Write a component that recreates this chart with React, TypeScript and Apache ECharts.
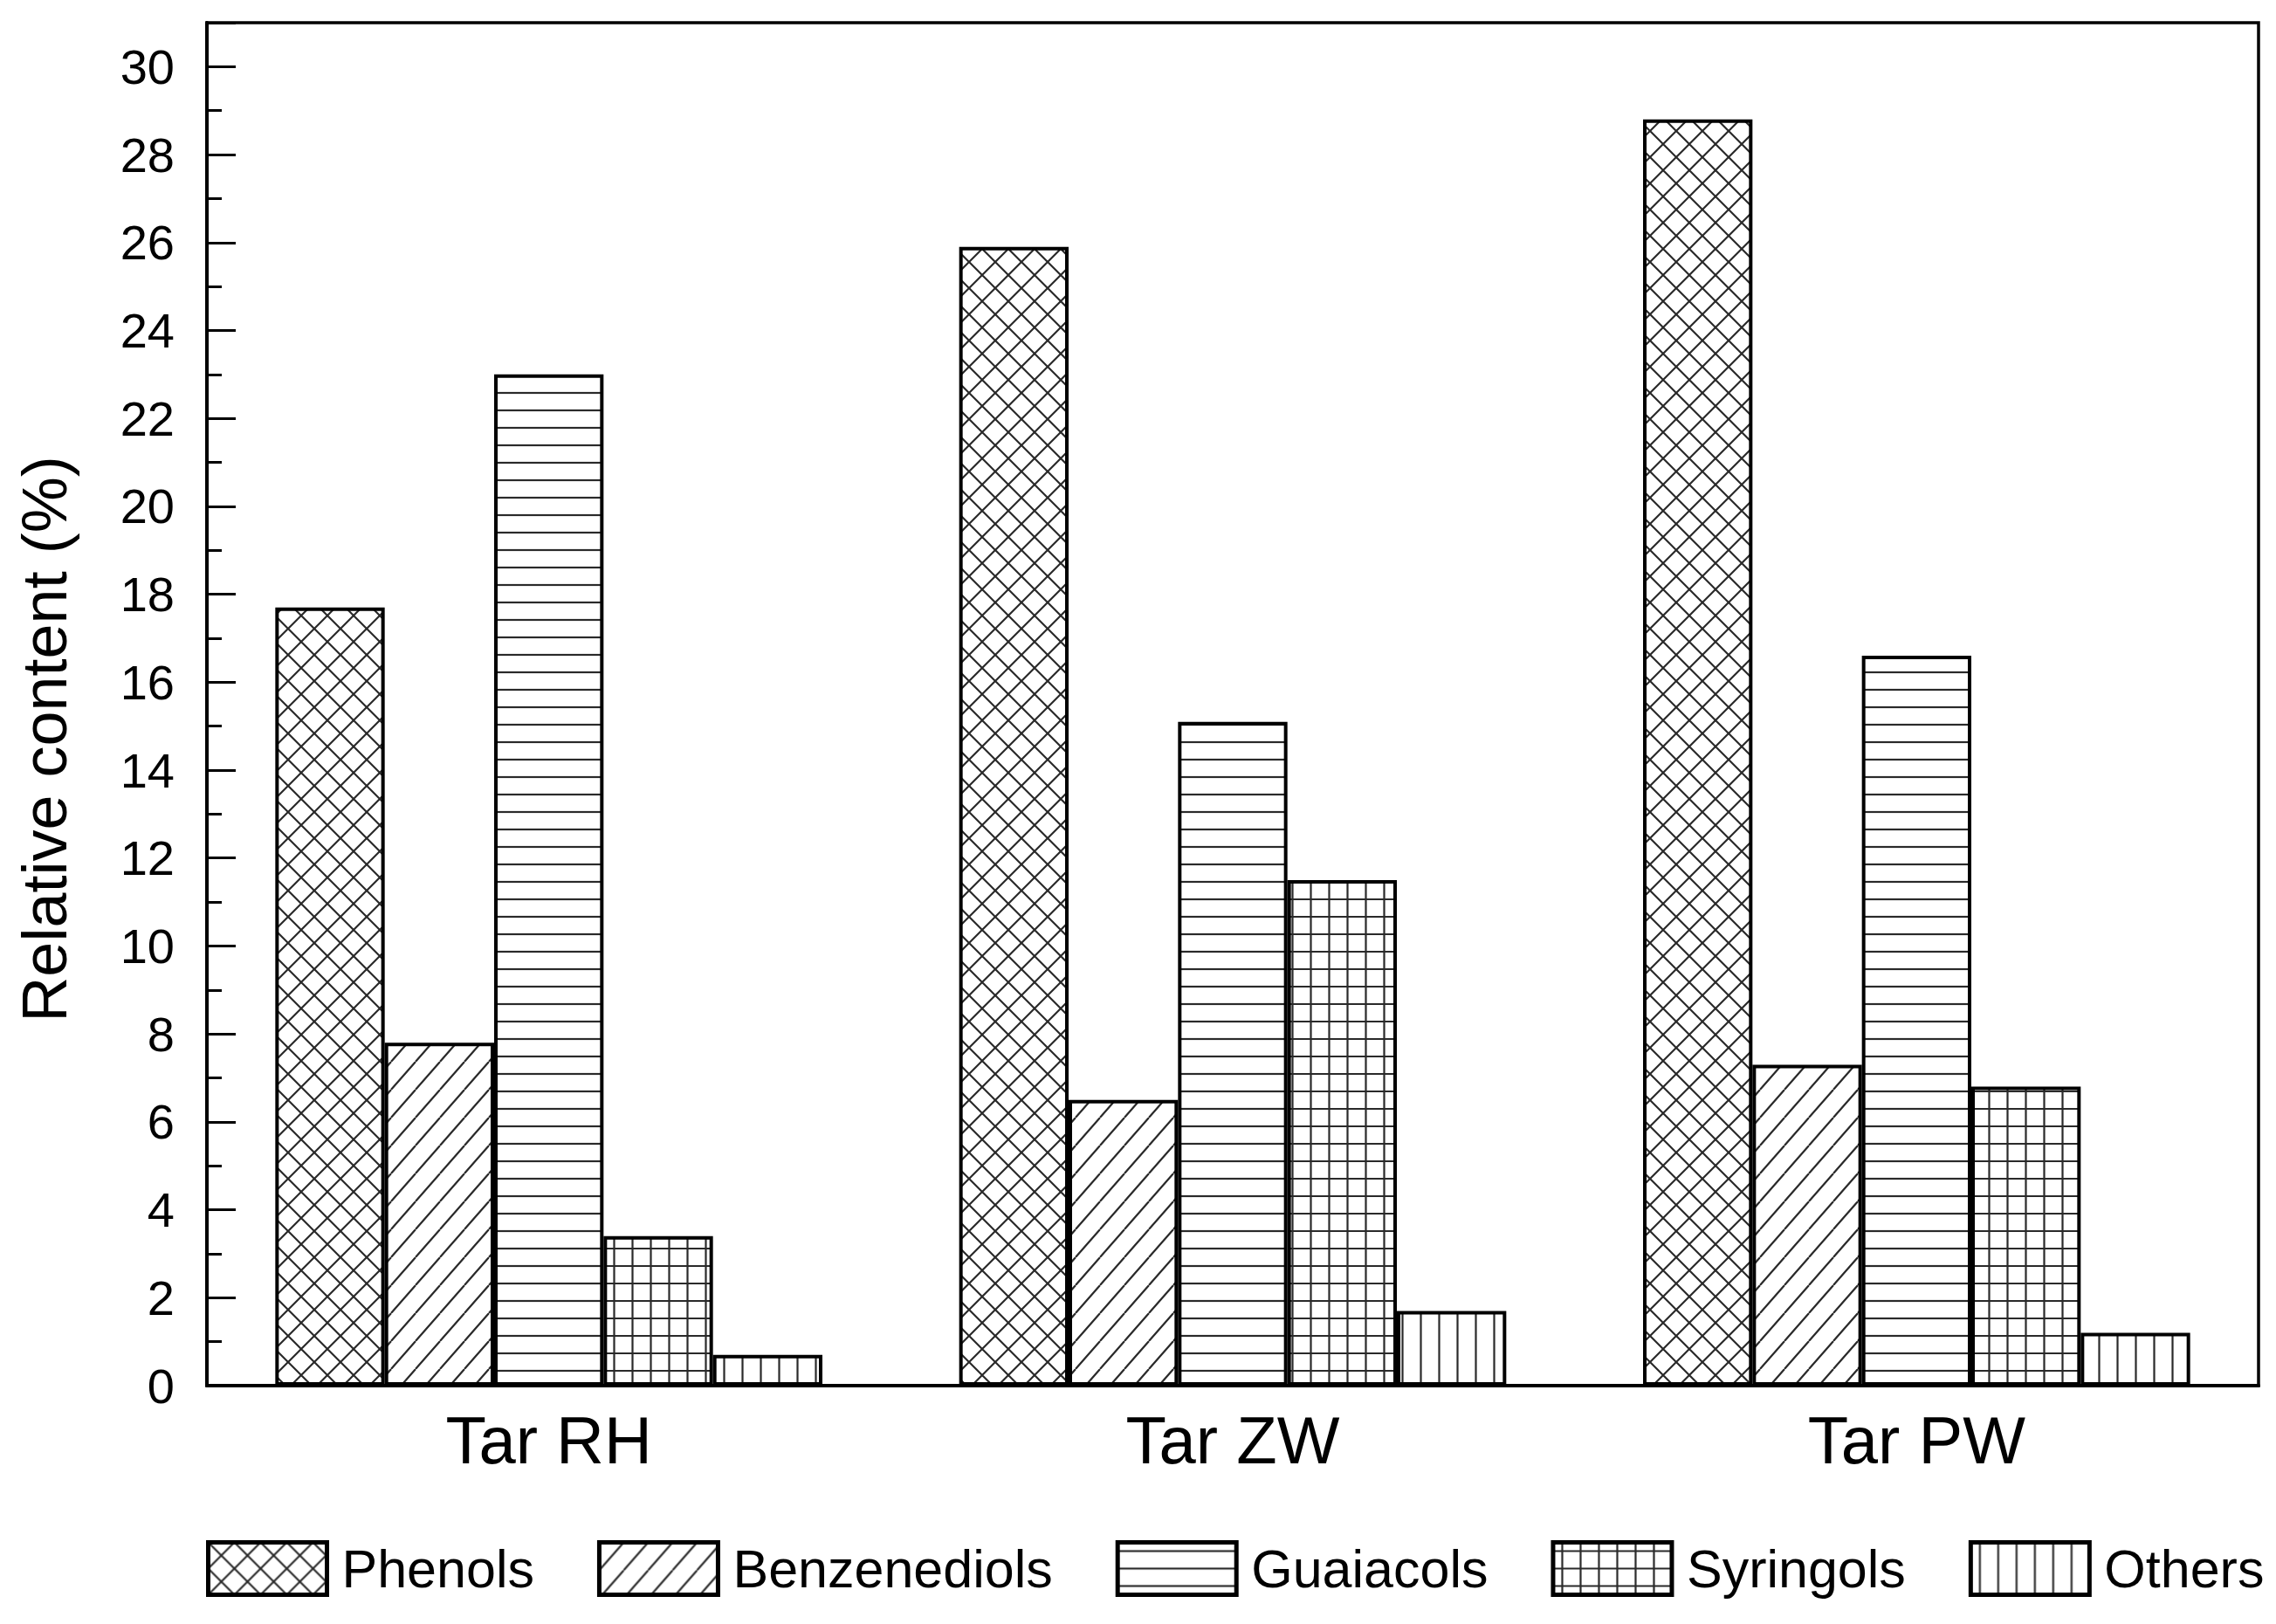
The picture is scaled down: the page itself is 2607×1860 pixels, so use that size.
import React, { useEffect, useRef } from "react";
import * as echarts from "echarts";

const categories = ["Tar RH", "Tar ZW", "Tar PW"];
const seriesNames = ["Phenols", "Benzenediols", "Guaiacols", "Syringols", "Others"];
const phenols = [17.7, 25.9, 28.8];
const benzenediols = [7.8, 6.5, 7.3];
const guaiacols = [23.0, 15.1, 16.6];
const syringols = [3.4, 11.5, 6.8];
const others = [0.7, 1.7, 1.2];
const yTicks = [0, 2, 4, 6, 8, 10, 12, 14, 16, 18, 20, 22, 24, 26, 28, 30];

type PatternKind = "cross" | "diag" | "horiz" | "grid" | "vert";
const patternKinds: PatternKind[] = ["cross", "diag", "horiz", "grid", "vert"];

function makePattern(kind: PatternKind) {
  const c = document.createElement("canvas");
  let w = 20;
  let h = 20;
  if (kind === "cross") { w = 30; h = 30; }
  if (kind === "diag") { w = 28; h = 32; }
  if (kind === "horiz") { w = 20; h = 20; }
  if (kind === "grid") { w = 21; h = 20; }
  if (kind === "vert") { w = 21; h = 20; }
  c.width = w;
  c.height = h;
  const ctx = c.getContext("2d")!;
  ctx.fillStyle = "#ffffff";
  ctx.fillRect(0, 0, w, h);
  ctx.strokeStyle = "#2a2a2a";
  ctx.lineWidth = 2.2;
  ctx.beginPath();
  if (kind === "cross") {
    for (const dx of [-w, 0, w]) {
      ctx.moveTo(dx, 0); ctx.lineTo(dx + w, h);
      ctx.moveTo(dx + w, 0); ctx.lineTo(dx, h);
    }
  } else if (kind === "diag") {
    for (const dx of [-w, 0, w]) {
      ctx.moveTo(dx, h); ctx.lineTo(dx + w, 0);
    }
  } else if (kind === "horiz") {
    ctx.moveTo(0, h / 2); ctx.lineTo(w, h / 2);
  } else if (kind === "grid") {
    ctx.moveTo(0, h / 2); ctx.lineTo(w, h / 2);
    ctx.moveTo(w / 2, 0); ctx.lineTo(w / 2, h);
  } else {
    ctx.moveTo(w / 2, 0); ctx.lineTo(w / 2, h);
  }
  ctx.stroke();
  return { image: c, repeat: "repeat" };
}

export default function App() {
  const ref = useRef<HTMLDivElement>(null);
  useEffect(() => {
    document.body.style.margin = "0";
    if (!ref.current) return;
    const chart = echarts.init(ref.current, undefined, { renderer: "svg" });
    const values = [phenols, benzenediols, guaiacols, syringols, others];
    const font = "Liberation Sans, Arial, Helvetica, sans-serif";
    const option: any = {
      animation: false,
      backgroundColor: "#ffffff",
      grid: {
        left: 237,
        right: 20,
        top: 26,
        bottom: 273,
        show: true,
        borderColor: "#000",
        borderWidth: 3.5,
        backgroundColor: "transparent",
      },
      legend: {
        left: 236,
        top: 1764,
        padding: 0,
        itemWidth: 136,
        itemHeight: 60,
        itemGap: 72,
        icon: "rect",
        itemStyle: { borderWidth: 5, borderColor: "#000" },
        textStyle: { fontSize: 61, color: "#000", fontFamily: font, padding: [0, 0, 0, 12] },
        data: seriesNames,
      },
      xAxis: {
        type: "category",
        data: categories,
        axisLine: { show: true, lineStyle: { color: "#000", width: 4 } },
        axisTick: { show: false },
        axisLabel: { fontSize: 76, color: "#000", fontFamily: font, margin: 24 },
        splitLine: { show: false },
      },
      yAxis: {
        type: "value",
        min: 0,
        max: 31,
        interval: 2,
        name: "Relative content (%)",
        nameLocation: "middle",
        nameGap: 150,
        nameTextStyle: { fontSize: 72, color: "#000", fontFamily: font, padding: [0, 80, 0, 0] },
        axisLine: { show: true, lineStyle: { color: "#000", width: 4 } },
        axisTick: { show: true, inside: true, length: 33, lineStyle: { color: "#000", width: 3 } },
        minorTick: { show: true, splitNumber: 2, length: 17, lineStyle: { color: "#000", width: 3 } },
        splitLine: { show: false },
        axisLabel: {
          fontSize: 56,
          color: "#000",
          fontFamily: font,
          margin: 37,
          formatter: (v: number) => (yTicks.indexOf(v) >= 0 ? String(v) : ""),
        },
      },
      series: seriesNames.map((name, i) => ({
        name,
        type: "bar",
        data: values[i],
        barWidth: "16%",
        barGap: "0%",
        itemStyle: {
          color: makePattern(patternKinds[i]),
          borderColor: "#000",
          borderWidth: 4,
        },
        emphasis: { disabled: true },
      })),
    };
    chart.setOption(option);
    return () => chart.dispose();
  }, []);
  return <div ref={ref} style={{ width: 2607, height: 1860 }} />;
}
